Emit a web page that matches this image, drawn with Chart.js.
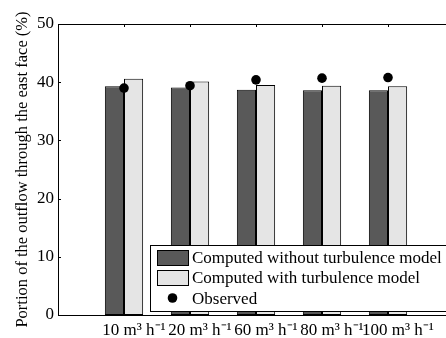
<!DOCTYPE html>
<html>
<head>
<meta charset="utf-8">
<script src="https://cdn.jsdelivr.net/npm/chart.js@4"></script>
<style>
  html, body { margin: 0; padding: 0; background: #fff; overflow: hidden; }
  #wrap { width: 446px; height: 338px; overflow: hidden; }
</style>
</head>
<body>
<div id="wrap"><canvas id="outflowChart" width="460" height="338"></canvas></div>
<script>
// Outflow through the east face, per ventilation rate
const flowRates = ['10 m³ h⁻¹', '20 m³ h⁻¹', '60 m³ h⁻¹', '80 m³ h⁻¹', '100 m³ h⁻¹'];
const withoutTurbulence = [39.3, 39.1, 38.7, 38.6, 38.6];
const withTurbulence = [40.6, 40.1, 39.5, 39.4, 39.3];
const observed = [39.0, 39.4, 40.4, 40.7, 40.8];
const yTicks = [0, 10, 20, 30, 40, 50];

const FONT = 'Liberation Serif';
const darkFill = '#595959';
const lightFill = '#e5e5e5';

// empty slot on both ends so the axis runs from 0 to 6 like the original plot
const pad = arr => [null, ...arr, null];
const labels = ['', ...flowRates, ''];

// box outline, inward ticks and the legend panel
const frame = {
    id: 'frame',
    afterDatasetsDraw(chart) {
        const { ctx, chartArea: a, scales } = chart;
        ctx.save();
        ctx.strokeStyle = '#000';
        ctx.lineWidth = 1;
        ctx.beginPath();
        ctx.moveTo(a.left, a.top + 0.5);
        ctx.lineTo(a.right, a.top + 0.5);
        yTicks.forEach(v => {
            const y = Math.round(scales.y.getPixelForValue(v)) + 0.5;
            ctx.moveTo(a.left, y);
            ctx.lineTo(a.left + 3, y);
        });
        for (let i = 1; i <= flowRates.length; i++) {
            const x = Math.round(scales.x.getPixelForValue(i)) + 0.5;
            ctx.moveTo(x, a.top);
            ctx.lineTo(x, a.top + 3);
            ctx.moveTo(x, a.bottom);
            ctx.lineTo(x, a.bottom - 3);
        }
        ctx.stroke();

        // legend
        const lx = 150.5, ly = 245.5, lw = 320, lh = 66;
        ctx.fillStyle = '#fff';
        ctx.fillRect(lx, ly, lw, lh);
        ctx.strokeRect(lx, ly, lw, lh);
        const ds = chart.data.datasets;
        ctx.font = '17px "' + FONT + '"';
        ctx.textBaseline = 'middle';
        const rows = [258, 278, 299];
        ds.forEach((d, i) => {
            const cy = rows[i];
            if (d.type === 'line') {
                ctx.fillStyle = '#000';
                ctx.beginPath();
                ctx.arc(172.5, cy - 1, 4.8, 0, Math.PI * 2);
                ctx.fill();
            } else {
                ctx.fillStyle = d.backgroundColor;
                ctx.fillRect(157.5, cy - 7.5, 31, 15);
                ctx.strokeRect(157.5, cy - 7.5, 31, 15);
            }
            ctx.fillStyle = '#000';
            ctx.fillText(d.label, 192, cy + 1);
        });
        ctx.restore();
    }
};

const ctx = document.getElementById('outflowChart').getContext('2d');
new Chart(ctx, {
    type: 'bar',
    data: {
        labels: labels,
        datasets: [{
            label: 'Computed without turbulence model',
            data: pad(withoutTurbulence),
            backgroundColor: darkFill,
            borderColor: '#000',
            borderWidth: 1,
            borderSkipped: false,
            categoryPercentage: 0.58,
            barPercentage: 1.0,
            order: 2
        }, {
            label: 'Computed with turbulence model',
            data: pad(withTurbulence),
            backgroundColor: lightFill,
            borderColor: '#000',
            borderWidth: 1,
            borderSkipped: false,
            categoryPercentage: 0.58,
            barPercentage: 1.0,
            order: 2
        }, {
            type: 'line',
            label: 'Observed',
            data: pad(observed),
            showLine: false,
            pointRadius: 4.8,
            pointBackgroundColor: '#000',
            pointBorderWidth: 0,
            order: 1
        }]
    },
    options: {
        responsive: false,
        animation: false,
        devicePixelRatio: 1,
        layout: { padding: { left: 0, top: 24, right: 6, bottom: 0 } },
        plugins: {
            legend: { display: false },
            tooltip: { enabled: false }
        },
        scales: {
            x: {
                offset: false,
                grid: { display: false, offset: false, drawTicks: false },
                border: { display: true, color: '#000', width: 1 },
                afterFit: s => { s.height = 23; },
                ticks: {
                    autoRotate: false,
                    maxRotation: 0,
                    autoSkip: false,
                    padding: 5,
                    labelOffset: 10,
                    color: '#000',
                    font: { family: FONT, size: 17 }
                }
            },
            y: {
                min: 0,
                max: 50,
                afterFit: s => { s.width = 58; },
                afterBuildTicks: s => { s.ticks = yTicks.map(v => ({ value: v })); },
                grid: { display: false, drawTicks: false },
                border: { display: true, color: '#000', width: 1 },
                ticks: {
                    padding: 4,
                    color: '#000',
                    font: { family: FONT, size: 17 }
                },
                title: {
                    display: true,
                    text: 'Portion of the outflow through the east face (%)',
                    color: '#000',
                    padding: { top: 13, bottom: 0 },
                    font: { family: FONT, size: 16.5 }
                }
            }
        }
    },
    plugins: [frame]
});
</script>
</body>
</html>
